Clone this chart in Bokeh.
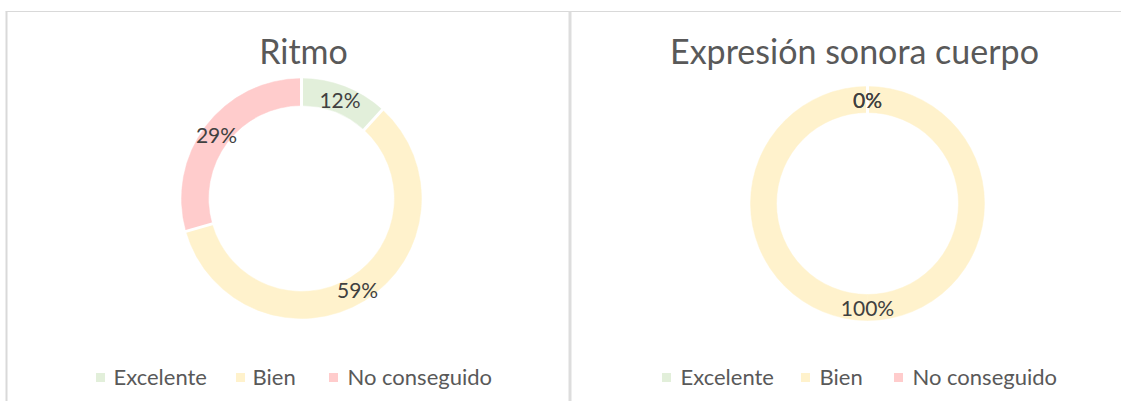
import numpy as np
from bokeh.plotting import figure
from bokeh.models import Range1d, ColumnDataSource
from bokeh.core.properties import value
from bokeh.embed import file_html
from bokeh.resources import INLINE

# ---- data ----
categories = ["Excelente", "Bien", "No conseguido"]
colors = ["#E2EFDA", "#FFF2CC", "#FFCCCC"]
titles = ["Ritmo", "Expresión sonora cuerpo"]
ritmo_counts = [2, 10, 5]
expresion_counts = [0, 17, 0]
series = [ritmo_counts, expresion_counts]

# ---- layout (pixel coordinates measured from the top-left of the figure) ----
W, H = 1121, 401
FONT = "Lato"

def Y(py):
    return H - py

def X(px):
    return px

p = figure(width=W, height=H, output_backend="svg", toolbar_location=None,
           x_range=Range1d(0, W), y_range=Range1d(0, H),
           min_border=0, outline_line_color=None)
p.axis.visible = False
p.grid.visible = False
p.background_fill_color = "white"
p.border_fill_color = "white"

# chart boxes (borders)
p.segment(x0=[X(5)], y0=[Y(11)], x1=[X(W)], y1=[Y(11)], line_color="#D9D9D9", line_width=1)
p.segment(x0=[X(6)], y0=[Y(11)], x1=[X(6)], y1=[Y(H)], line_color="#D9D9D9", line_width=2)
p.segment(x0=[X(569.5)], y0=[Y(11)], x1=[X(569.5)], y1=[Y(H)], line_color="#DDDDDD", line_width=3)

panels = [
    dict(cx=301, cy=198, r_in=93, r_out=120, tx=303, ty=50,
         sq=[100, 240, 333], lx=[113, 252, 347]),
    dict(cx=867, cy=203, r_in=91, r_out=117, tx=854, ty=50,
         sq=[666, 805, 898], lx=[680, 819, 912]),
]

for vals, title, pan in zip(series, titles, panels):
    vals = np.array(vals, dtype=float)
    frac = vals / vals.sum()
    cum_end = np.cumsum(frac)
    cum_start = cum_end - frac
    mid = (cum_start + cum_end) / 2
    cx, cy = X(pan["cx"]), Y(pan["cy"])

    # wedges (skip empty slices; split big slices so no arc spans > 180 deg)
    ws, we, wc = [], [], []
    for f0, f1, col in zip(cum_start, cum_end, colors):
        if f1 - f0 <= 0:
            continue
        n = int(np.ceil((f1 - f0) / 0.5))
        edges = np.linspace(f0, f1, n + 1)
        for a, b in zip(edges[:-1], edges[1:]):
            ws.append(np.pi / 2 - b * 2 * np.pi)
            we.append(np.pi / 2 - a * 2 * np.pi)
            wc.append(col)
    p.annular_wedge(x=[cx] * len(ws), y=[cy] * len(ws), inner_radius=pan["r_in"],
                    outer_radius=pan["r_out"], start_angle=ws, end_angle=we,
                    fill_color=wc, line_color=wc, line_width=0.5)

    # white separators at slice boundaries
    bnd = sorted(set(np.round(cum_start[frac > 0] % 1.0, 6)))
    ang = np.array(bnd) * 2 * np.pi
    p.segment(x0=cx + (pan["r_in"] - 1) * np.sin(ang), y0=cy + (pan["r_in"] - 1) * np.cos(ang),
              x1=cx + (pan["r_out"] + 1) * np.sin(ang), y1=cy + (pan["r_out"] + 1) * np.cos(ang),
              line_color="white", line_width=3)

    # data labels
    r_lab = (pan["r_in"] + pan["r_out"]) / 2
    src = ColumnDataSource(dict(
        lx=cx + r_lab * np.sin(mid * 2 * np.pi),
        ly=cy + r_lab * np.cos(mid * 2 * np.pi),
        lab=[f"{round(f * 100):.0f}%" for f in frac],
    ))
    p.text(x="lx", y="ly", text="lab", source=src, text_align="center",
           text_baseline="middle", text_font=value(FONT), text_font_size="21px",
           text_color="#404040")
    # title
    p.text(x=[X(pan["tx"])], y=[Y(pan["ty"])], text=[title], text_align="center",
           text_baseline="middle", text_font=value(FONT), text_font_size="34px",
           text_color="#595959")
    # legend
    p.scatter(x=[X(v) for v in pan["sq"]], y=[Y(377)] * 3, marker="square", size=9,
              fill_color=colors, line_color=None)
    p.text(x=[X(v) for v in pan["lx"]], y=[Y(376)] * 3, text=categories,
           text_align="left", text_baseline="middle", text_font=value(FONT),
           text_font_size="22px", text_color="#595959")

open("out.html", "w").write(file_html(p, INLINE))
